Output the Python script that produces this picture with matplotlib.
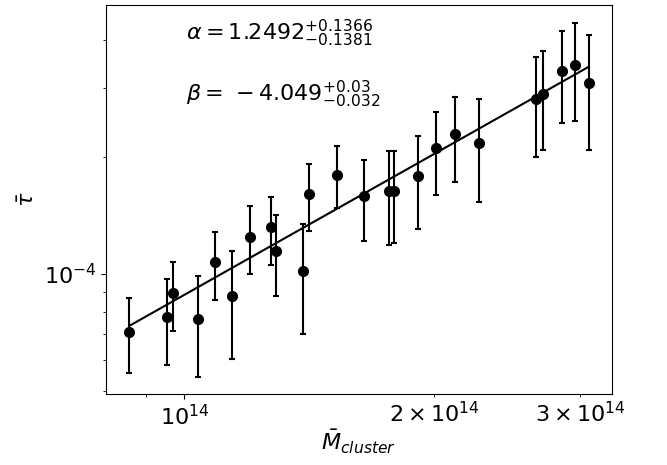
import numpy as np
import matplotlib
matplotlib.use("Agg")
import matplotlib.pyplot as plt
from matplotlib.ticker import FuncFormatter, NullFormatter

# --- data ---
M = [8.59e13, 9.53e13, 9.68e13, 1.040e14, 1.088e14, 1.141e14, 1.199e14, 1.273e14,
     1.291e14, 1.391e14, 1.415e14, 1.527e14, 1.647e14, 1.762e14, 1.787e14, 1.910e14,
     2.011e14, 2.120e14, 2.266e14, 2.651e14, 2.703e14, 2.852e14, 2.959e14, 3.071e14]
tau = [7.11e-5, 7.77e-5, 8.92e-5, 7.66e-5, 1.072e-4, 8.76e-5, 1.247e-4, 1.319e-4,
       1.148e-4, 1.018e-4, 1.603e-4, 1.800e-4, 1.587e-4, 1.632e-4, 1.632e-4, 1.789e-4,
       2.112e-4, 2.294e-4, 2.176e-4, 2.813e-4, 2.907e-4, 3.325e-4, 3.439e-4, 3.093e-4]
tau_lo = [5.55e-5, 5.82e-5, 7.14e-5, 5.45e-5, 8.59e-5, 6.06e-5, 1.0e-4, 1.055e-4,
          8.76e-5, 7.0e-5, 1.290e-4, 1.478e-4, 1.218e-4, 1.188e-4, 1.199e-4, 1.305e-4,
          1.596e-4, 1.727e-4, 1.529e-4, 1.995e-4, 2.080e-4, 2.449e-4, 2.478e-4, 2.080e-4]
tau_hi = [8.68e-5, 9.69e-5, 1.072e-4, 9.86e-5, 1.285e-4, 1.148e-4, 1.498e-4, 1.580e-4,
          1.418e-4, 1.342e-4, 1.914e-4, 2.137e-4, 1.960e-4, 2.071e-4, 2.071e-4, 2.267e-4,
          2.604e-4, 2.846e-4, 2.813e-4, 3.619e-4, 3.750e-4, 4.207e-4, 4.411e-4, 4.108e-4]

# fit line end points
fit_M = [8.59e13, 3.071e14]
fit_tau = [7.36e-5, 3.41e-4]

M = np.array(M)
tau = np.array(tau)
yerr = [tau - np.array(tau_lo), np.array(tau_hi) - tau]

fig = plt.figure(figsize=(6.67, 4.65), dpi=100)
ax = fig.add_axes([0.159, 0.1527, 0.7586, 0.8366])

ax.errorbar(M, tau, yerr=yerr, fmt='o', color='black', ms=7, capsize=2,
            elinewidth=1.5, capthick=1.5)
ax.plot(fit_M, fit_tau, color='black', lw=1.5)

ax.set_xscale('log')
ax.set_yscale('log')
ax.set_xlim(8.05e13, 3.275e14)
ax.set_ylim(4.915e-5, 4.914e-4)

def minor_x(v, pos):
    m = v / 1e14
    if abs(m - 2) < 1e-6 or abs(m - 3) < 1e-6:
        return r'$%d\times10^{14}$' % round(m)
    return ''

ax.xaxis.set_minor_formatter(FuncFormatter(minor_x))
ax.yaxis.set_minor_formatter(NullFormatter())
ax.tick_params(axis='both', which='both', labelsize=16)

ax.set_xlabel(r'$\bar{M}_{cluster}$', fontsize=16, labelpad=-1)
ax.set_ylabel(r'$\bar{\tau}$', fontsize=16)

ax.text(0.158, 0.928, r'$\alpha = 1.2492^{+0.1366}_{-0.1381}$', transform=ax.transAxes,
        fontsize=16, va='center')
ax.text(0.158, 0.769, r'$\beta =\,-4.049^{+0.03}_{-0.032}$', transform=ax.transAxes,
        fontsize=16, va='center')

fig.savefig('out.png', dpi=100)
